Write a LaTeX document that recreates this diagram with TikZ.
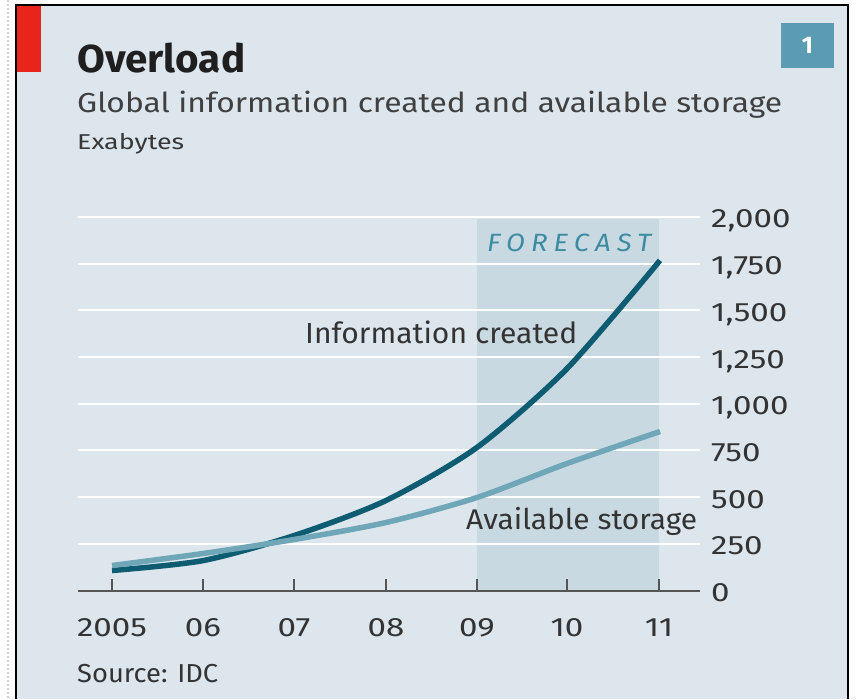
\documentclass[tikz,border=0pt]{standalone}
\usepackage{fontspec}
\setmainfont{Fira Sans}
\newfontfamily\numfont{Fira Sans}[FakeStretch=1.25]
\definecolor{bgc}{HTML}{DDE6ED}
\definecolor{shadec}{HTML}{C9D9E2}
\definecolor{redc}{HTML}{E8251A}
\definecolor{badgec}{HTML}{5C9CB2}
\definecolor{infoc}{HTML}{0D5C71}
\definecolor{storec}{HTML}{6FA7B8}
\definecolor{fcc}{HTML}{3C8BA2}
\definecolor{txtc}{HTML}{333333}
\definecolor{axisc}{HTML}{555555}
\newcommand{\fsz}[1]{\fontsize{#1}{#1}\selectfont}
\newcommand{\fitw}[2]{\resizebox{#1pt}{\height}{#2}}
\begin{document}
\begin{tikzpicture}[x=1pt,y=-1pt,
  lbl/.style={inner sep=0pt, text=txtc},
  grid/.style={white, line width=2pt},
  axisline/.style={axisc, line width=2pt},
  series/.style={line width=5.5pt, line join=round}]
\useasboundingbox (0,0) rectangle (858,699);
\fill[white] (0,0) rectangle (858,699);
\draw[gray!35, line width=1.5pt, dash pattern=on 2pt off 2pt] (8,0) -- (8,699);
\fill[bgc] (16,5) rectangle (848,699);
\draw[black, line width=2.5pt] (16,699) -- (16,5) -- (848,5) -- (848,699);
\fill[redc] (17.3,6.3) rectangle (41,72);
% titles
\node[lbl, anchor=base west, text=black!88, font=\bfseries\fsz{39}] (title) at (77,72) {\fitw{168}{Overload}};
\node[lbl, anchor=base west, text=black!75, font=\fsz{27.5}] (subtitle) at (77,112) {\fitw{705}{Global information created and available storage}};
\node[lbl, anchor=base west, text=black!78, font=\fsz{21.5}] (unit) at (77,149) {\fitw{107}{Exabytes}};
\node[fill=badgec, minimum width=53pt, minimum height=45pt, inner sep=0pt, text=white, font=\bfseries\fsz{24}] (badge) at (807.5,45.5) {1};
% forecast shade
\fill[shadec] (477,219) rectangle (659,590.5);
% gridlines
\foreach \v in {250,500,...,2000} {
  \draw[grid] (78,590.5-\v*0.1868) -- (700,590.5-\v*0.1868);
}
\node[lbl, anchor=base west, text=fcc, font=\itshape\fsz{25}\addfontfeatures{LetterSpace=22}] (forecast) at (487,251) {\fitw{164}{FORECAST}};
% y labels
\foreach \v/\t in {0/0,250/250,500/500,750/750,1000/{1,000},1250/{1,250},1500/{1,500},1750/{1,750},2000/{2,000}} {
  \node[lbl, anchor=base west, font=\numfont\fsz{26.5}] (y\v) at (711,590.5-\v*0.1868+11) {\t};
}
% axis
\draw[axisline] (78,590.5) -- (700,590.5);
\foreach \x/\t/\n in {112/2005/a,203/06/b,294/07/c,386/08/d,477/09/e,567/10/f,659/11/g} {
  \draw[axisc, line width=2pt] (\x,590.5) -- (\x,579);
  \node[lbl, anchor=base, font=\numfont\fsz{26.5}] (x\n) at (\x,636) {\t};
}
\node[lbl, anchor=base west, font=\fsz{26}] (source) at (77,682) {\fitw{141}{Source: IDC}};
% series
\draw[series, infoc] plot[smooth, tension=0.45] coordinates {(112,570.5) (203,560.6) (294,535.6) (386,500.5) (477,447.4) (567,368.6) (660,260.4)};
\draw[series, storec] plot[smooth, tension=0.45] coordinates {(112,565.5) (203,553.5) (294,539.5) (386,522.5) (477,497.5) (567,463.5) (660,431.5)};
% series labels
\node[lbl, anchor=base west, font=\fsz{29}] (lblinfo) at (305,343) {\fitw{272}{Information created}};
\node[lbl, anchor=base west, font=\fsz{28.5}] (lblstore) at (466,529) {\fitw{231}{Available storage}};
\end{tikzpicture}
\end{document}
